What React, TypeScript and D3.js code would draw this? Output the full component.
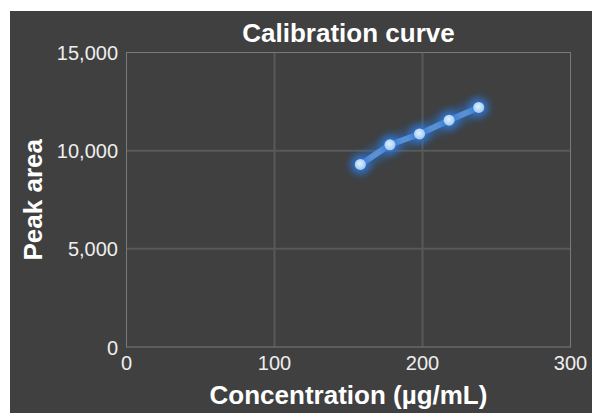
import React, { useEffect, useRef } from 'react';
import * as d3 from 'd3';

// calibration points
const concentrations = [158, 178, 198, 218, 238];
const peakAreas = [9300, 10300, 10850, 11550, 12200];
const xTicks = [0, 100, 200, 300];
const yTicks = [0, 5000, 10000, 15000];

const W = 592;
const H = 413;
const FONT = 'Liberation Sans, Arial, sans-serif';

export default function App() {
  const svgRef = useRef<SVGSVGElement>(null);

  useEffect(() => {
    const svg = d3.select(svgRef.current);
    svg.selectAll('*').remove();

    const margin = { top: 52.5, right: 21.5, bottom: 66, left: 126.5 };
    const x = d3.scaleLinear().domain([0, 300]).range([margin.left, W - margin.right]);
    const y = d3.scaleLinear().domain([0, 15000]).range([H - margin.bottom, margin.top]);

    // soft blue glow
    const defs = svg.append('defs');
    const glow = defs.append('filter').attr('id', 'glow')
      .attr('x', '-100%').attr('y', '-100%').attr('width', '300%').attr('height', '300%');
    glow.append('feGaussianBlur').attr('in', 'SourceGraphic').attr('stdDeviation', 4);

    const dotGrad = defs.append('radialGradient').attr('id', 'dotGrad')
      .attr('cx', '45%').attr('cy', '42%').attr('r', '60%');
    dotGrad.append('stop').attr('offset', '0%').attr('stop-color', '#e2f0ff');
    dotGrad.append('stop').attr('offset', '100%').attr('stop-color', '#9cc8f0');

    // background panel
    svg.append('rect')
      .attr('x', 10).attr('y', 11)
      .attr('width', W - 10).attr('height', H - 11)
      .attr('fill', '#404040');

    // grid
    const g = svg.append('g');
    g.selectAll('.vgrid')
      .data(xTicks.slice(1, -1))
      .enter().append('line')
      .attr('x1', d => x(d)).attr('x2', d => x(d))
      .attr('y1', y(15000)).attr('y2', y(0))
      .attr('stroke', '#595959').attr('stroke-width', 2);
    g.selectAll('.hgrid')
      .data(yTicks.slice(1, -1))
      .enter().append('line')
      .attr('x1', x(0)).attr('x2', x(300))
      .attr('y1', d => y(d)).attr('y2', d => y(d))
      .attr('stroke', '#595959').attr('stroke-width', 2);

    // plot frame
    g.append('rect')
      .attr('x', x(0)).attr('y', y(15000))
      .attr('width', x(300) - x(0)).attr('height', y(0) - y(15000))
      .attr('fill', 'none').attr('stroke', '#7a7a7a').attr('stroke-width', 1);

    // tick labels
    g.selectAll('.ylab')
      .data(yTicks)
      .enter().append('text')
      .attr('x', x(0) - 8.5)
      .attr('y', d => y(d))
      .attr('dy', '0.38em')
      .attr('text-anchor', 'end')
      .attr('fill', '#eeeeee')
      .style('font-family', FONT)
      .style('font-size', '20px')
      .text(d => d3.format(',')(d));

    g.selectAll('.xlab')
      .data(xTicks)
      .enter().append('text')
      .attr('x', d => x(d))
      .attr('y', y(0) + 23)
      .attr('text-anchor', 'middle')
      .attr('fill', '#eeeeee')
      .style('font-family', FONT)
      .style('font-size', '20px')
      .text(d => d);

    // series
    const pts = concentrations.map((c, i) => [c, peakAreas[i]] as [number, number]);
    const line = d3.line<[number, number]>().x(d => x(d[0])).y(d => y(d[1]));

    g.append('path')
      .datum(pts)
      .attr('d', line)
      .attr('fill', 'none')
      .attr('stroke', '#2a72d6')
      .attr('stroke-width', 14)
      .attr('stroke-linecap', 'round')
      .attr('stroke-opacity', 0.55)
      .attr('filter', 'url(#glow)');
    g.append('path')
      .datum(pts)
      .attr('d', line)
      .attr('fill', 'none')
      .attr('stroke', '#5d92d2')
      .attr('stroke-width', 6)
      .attr('stroke-linecap', 'round');

    g.selectAll('.halo')
      .data(pts)
      .enter().append('circle')
      .attr('cx', d => x(d[0])).attr('cy', d => y(d[1]))
      .attr('r', 9)
      .attr('fill', '#2f7ae0')
      .attr('opacity', 0.9)
      .attr('filter', 'url(#glow)');
    g.selectAll('.dot')
      .data(pts)
      .enter().append('circle')
      .attr('cx', d => x(d[0])).attr('cy', d => y(d[1]))
      .attr('r', 5.5)
      .attr('fill', 'url(#dotGrad)');

    // titles
    svg.append('text')
      .attr('x', (x(0) + x(300)) / 2)
      .attr('y', 41.5)
      .attr('text-anchor', 'middle')
      .attr('fill', '#ffffff')
      .style('font-family', FONT)
      .style('font-size', '26px')
      .style('font-weight', 'bold')
      .text('Calibration curve');

    svg.append('text')
      .attr('x', (x(0) + x(300)) / 2)
      .attr('y', 404)
      .attr('text-anchor', 'middle')
      .attr('fill', '#ffffff')
      .style('font-family', FONT)
      .style('font-size', '26px')
      .style('font-weight', 'bold')
      .text('Concentration (µg/mL)');

    svg.append('text')
      .attr('transform', `translate(41.5,${(y(0) + y(15000)) / 2}) rotate(-90)`)
      .attr('text-anchor', 'middle')
      .attr('fill', '#ffffff')
      .style('font-family', FONT)
      .style('font-size', '26px')
      .style('font-weight', 'bold')
      .text('Peak area');
  }, []);

  return (
    <svg
      ref={svgRef}
      width={W}
      height={H}
      style={{ position: 'absolute', left: 0, top: 0, background: '#ffffff' }}
    />
  );
}
